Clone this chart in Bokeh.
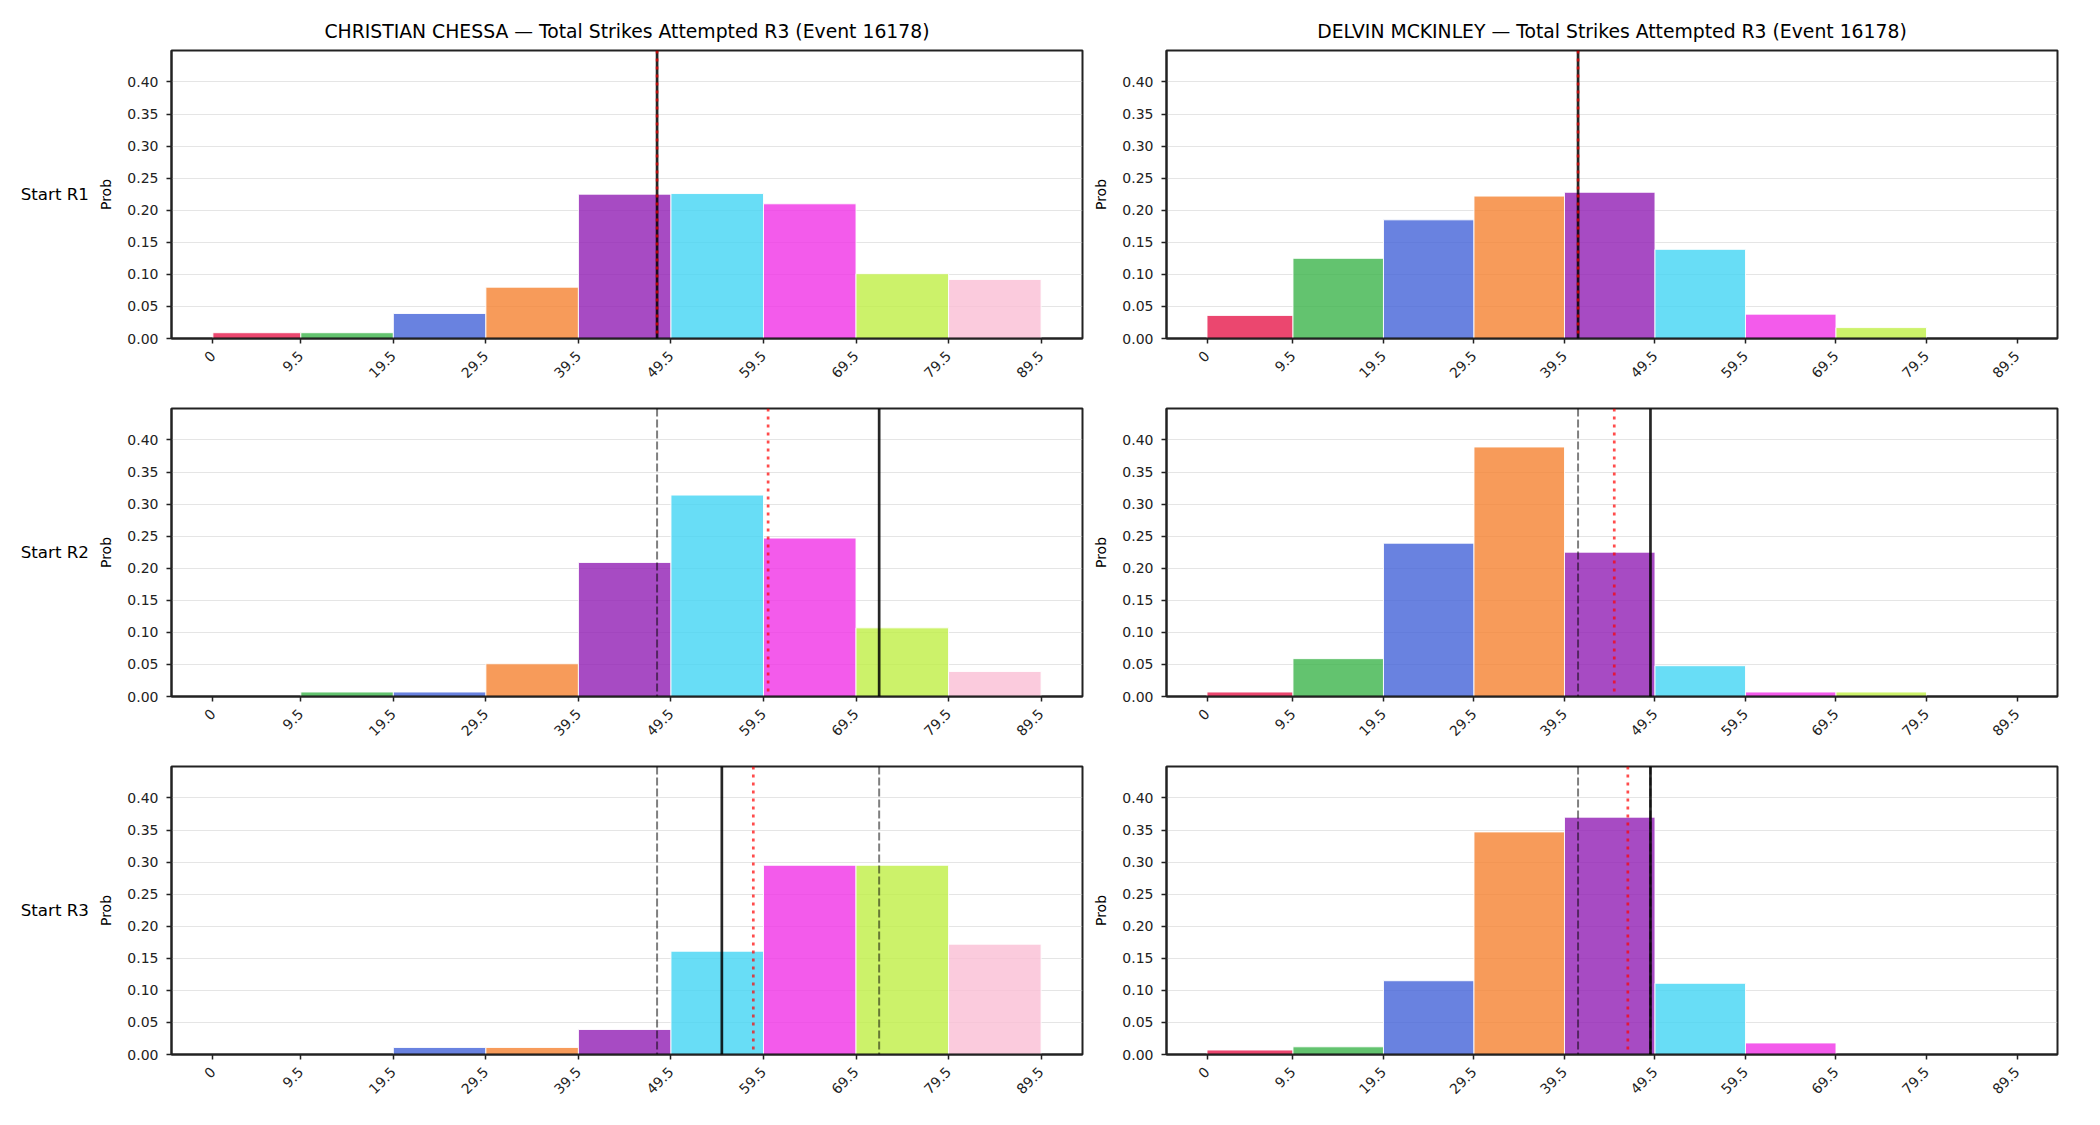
import math

from bokeh.embed import file_html
from bokeh.layouts import column, row
from bokeh.models import Div, FixedTicker, NumeralTickFormatter, Range1d, Span
from bokeh.plotting import figure
from bokeh.resources import INLINE

FONT = "DejaVu Sans"

# Histogram bin edges and the x tick labels shown at them
edges = [0, 9.5, 19.5, 29.5, 39.5, 49.5, 59.5, 69.5, 79.5, 89.5]
tick_labels = ["0", "9.5", "19.5", "29.5", "39.5", "49.5", "59.5", "69.5", "79.5", "89.5"]
y_ticks = [0.0, 0.05, 0.10, 0.15, 0.20, 0.25, 0.30, 0.35, 0.40]

# One colour per bin
bin_colors = ["#e6194b", "#3cb44b", "#4363d8", "#f58231", "#911eb4",
              "#42d4f4", "#f032e6", "#bfef45", "#fabed4"]

fighters = ["CHRISTIAN CHESSA", "DELVIN MCKINLEY"]
start_labels = ["Start R1", "Start R2", "Start R3"]
title_suffix = " \u2014 Total Strikes Attempted R3 (Event 16178)"

# Probability per bin, simulation started from round 1 / 2 / 3
chessa_r1 = [0.009, 0.009, 0.039, 0.080, 0.225, 0.226, 0.210, 0.101, 0.092]
chessa_r2 = [0.000, 0.007, 0.007, 0.051, 0.209, 0.314, 0.247, 0.107, 0.039]
chessa_r3 = [0.000, 0.000, 0.011, 0.011, 0.039, 0.161, 0.295, 0.295, 0.172]

mckinley_r1 = [0.036, 0.125, 0.185, 0.222, 0.228, 0.139, 0.038, 0.017, 0.000]
mckinley_r2 = [0.007, 0.059, 0.239, 0.389, 0.225, 0.048, 0.007, 0.007, 0.000]
mckinley_r3 = [0.007, 0.012, 0.115, 0.347, 0.370, 0.111, 0.018, 0.000, 0.000]

# Reference lines: earlier rounds (grey dashed), model mean (red dotted), observed (black)
chessa_prev = [[], [48], [48, 72]]
chessa_mean = [48, 60, 58.4]
chessa_actual = [48, 72, 55]

mckinley_prev = [[], [41], [41, 49]]
mckinley_mean = [41, 45, 46.5]
mckinley_actual = [41, 49, 49]

X0, X1 = -4.475, 93.975
Y1 = 0.449
AXIS_COLOR = "#222222"
FRAME_H = 288
LABEL_W = 95


def row_borders(rw):
    top = 50 if rw == 0 else 20
    bottom = [50, 50, 71][rw]
    return top, bottom


def make_panel(col, rw, probs, prev, mean, actual):
    left = col == 0
    b_left = 75
    b_right = 8 if left else 43
    width = b_left + (912 if left else 892) + b_right
    b_top, b_bottom = row_borders(rw)
    height = b_top + FRAME_H + b_bottom

    p = figure(width=width, height=height,
               min_border_left=b_left, min_border_right=b_right,
               min_border_top=b_top, min_border_bottom=b_bottom,
               x_range=Range1d(X0, X1), y_range=Range1d(0, Y1),
               output_backend="svg", toolbar_location=None,
               title=(fighters[col] + title_suffix) if rw == 0 else "")
    p.background_fill_color = "white"
    p.border_fill_color = "white"
    p.outline_line_color = AXIS_COLOR
    p.outline_line_width = 2
    p.outline_line_alpha = 1

    p.title.text_font = FONT
    p.title.text_font_size = "18.8px"
    p.title.text_font_style = "normal"
    p.title.text_color = "black"
    p.title.align = "center"
    p.title.standoff = 18

    p.quad(left=edges[:-1], right=edges[1:], bottom=0, top=probs,
           fill_color=bin_colors, fill_alpha=0.8,
           line_color="white", line_width=1, line_alpha=0.9)

    for v in prev:
        p.add_layout(Span(location=v, dimension="height", line_color="black",
                          line_alpha=0.5, line_width=2, line_dash="8 3"))
    p.add_layout(Span(location=actual, dimension="height", line_color="black",
                      line_alpha=0.85, line_width=2.7))
    p.add_layout(Span(location=mean, dimension="height", line_color="red",
                      line_alpha=0.7, line_width=2.7, line_dash="3 5"))

    p.xgrid.visible = False
    p.ygrid.grid_line_color = "#cccccc"
    p.ygrid.grid_line_alpha = 0.5
    p.ygrid.grid_line_width = 1

    for ax in (p.xaxis, p.yaxis):
        ax.axis_line_color = AXIS_COLOR
        ax.axis_line_width = 2
        ax.major_tick_line_color = AXIS_COLOR
        ax.major_tick_line_width = 1.5
        ax.major_tick_out = 5
        ax.major_tick_in = 0
        ax.minor_tick_line_color = None
        ax.major_label_text_font = FONT
        ax.major_label_text_font_size = "14px"
        ax.major_label_text_color = "#222222"

    p.xaxis.ticker = FixedTicker(ticks=edges)
    p.xaxis.major_label_overrides = {e: t for e, t in zip(edges, tick_labels)}
    p.xaxis.major_label_orientation = math.pi / 4
    p.xaxis.major_label_standoff = 10

    p.yaxis.ticker = FixedTicker(ticks=y_ticks)
    p.yaxis.formatter = NumeralTickFormatter(format="0.00")
    p.yaxis.major_label_standoff = 8
    p.yaxis.axis_label = "Prob"
    p.yaxis.axis_label_text_font = FONT
    p.yaxis.axis_label_text_font_size = "14px"
    p.yaxis.axis_label_text_font_style = "normal"
    p.yaxis.axis_label_text_color = "black"
    p.yaxis.axis_label_standoff = 10
    return p


def make_row_label(rw):
    b_top, b_bottom = row_borders(rw)
    height = b_top + FRAME_H + b_bottom
    center = b_top + FRAME_H / 2
    return Div(
        text=start_labels[rw], width=LABEL_W, height=height, margin=0,
        styles={
            "font-family": FONT, "font-size": "16.7px", "color": "black",
            "line-height": "20px", "text-align": "right",
            "padding-top": f"{center - 10:.0f}px", "padding-right": "6px",
            "box-sizing": "border-box", "white-space": "nowrap",
            "width": f"{LABEL_W}px", "height": f"{height}px",
        },
    )


chessa = [chessa_r1, chessa_r2, chessa_r3]
mckinley = [mckinley_r1, mckinley_r2, mckinley_r3]

rows = []
for r in range(3):
    lab = make_row_label(r)
    a = make_panel(0, r, chessa[r], chessa_prev[r], chessa_mean[r], chessa_actual[r])
    b = make_panel(1, r, mckinley[r], mckinley_prev[r], mckinley_mean[r], mckinley_actual[r])
    rows.append(row(lab, a, b))

layout = column(*rows)

with open("out.html", "w") as f:
    f.write(file_html(layout, INLINE))
